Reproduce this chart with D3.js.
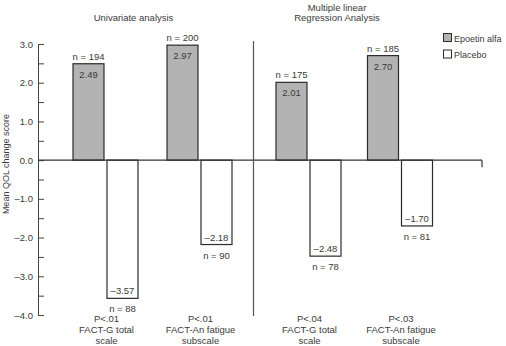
<!DOCTYPE html>
<html>
<head>
<meta charset="utf-8">
<script src="https://cdn.jsdelivr.net/npm/d3@7"></script>
<style>
  body { margin: 0; background: #fff; }
  svg text { font-family: "Liberation Sans", Arial, sans-serif; fill: #3a3a3a; }
</style>
</head>
<body>
<svg id="chart"></svg>
<script>
// chart values
const groups = ["uniG", "uniAn", "mlrG", "mlrAn"];
const panelOf = ["left", "left", "right", "right"];
const pValues = ["P<.01", "P<.01", "P<.04", "P<.03"];
const scaleNames = [["FACT-G total", "scale"], ["FACT-An fatigue", "subscale"],
                    ["FACT-G total", "scale"], ["FACT-An fatigue", "subscale"]];
const series = ["Epoetin alfa", "Placebo"];
const epoetin = [2.49, 2.97, 2.01, 2.70];
const placebo = [-3.57, -2.18, -2.48, -1.70];
const epoetinN = [194, 200, 175, 185];
const placeboN = [88, 90, 78, 81];
const yTicks = [-4, -3, -2, -1, 0, 1, 2, 3];
const yMinor = [-3.5, -2.5, -1.5, -0.5, 0.5, 1.5, 2.5];
const panelTitles = [["Univariate analysis"], ["Multiple linear", "Regression Analysis"]];

const width = 506, height = 346;
const fs = "9.5px";
const svg = d3.select("#chart").attr("width", width).attr("height", height);

const y = d3.scaleLinear().domain([-4, 3]).range([315, 44]);

// one band scale per panel
const leftGroups = groups.filter((g, i) => panelOf[i] === "left");
const rightGroups = groups.filter((g, i) => panelOf[i] === "right");
const xLeft = d3.scaleBand().domain(leftGroups).range([58.5, 246.5]);
const xRight = d3.scaleBand().domain(rightGroups).range([262.75, 445.75]);
const center = (g, i) => {
    const s = panelOf[i] === "left" ? xLeft : xRight;
    return s(g) + s.bandwidth() / 2;
};
const xSub = d3.scaleBand().domain(series).range([-32.5, 32.5]).paddingInner(3 / 34);
const fmt = v => (v < 0 ? "\u2013" : "") + d3.format(".2f")(Math.abs(v));

// y axis
const axisX = 38;
const yAxis = svg.append("g")
    .attr("transform", `translate(${axisX},0)`)
    .call(d3.axisLeft(y).tickValues(yTicks).tickSizeInner(-6).tickSizeOuter(0).tickPadding(5)
        .tickFormat(d => (d < 0 ? "\u2013" : "") + d3.format(".1f")(Math.abs(d))));
yAxis.selectAll("text").style("font-size", fs).attr("fill", "#3a3a3a");
yAxis.selectAll("line, path").attr("stroke", "#444");

const yAxisMinor = svg.append("g")
    .attr("transform", `translate(${axisX},0)`)
    .call(d3.axisLeft(y).tickValues(yMinor).tickSizeInner(-6).tickSizeOuter(0).tickFormat(""));
yAxisMinor.select(".domain").remove();
yAxisMinor.selectAll("line").attr("stroke", "#444");

svg.append("text")
    .attr("transform", `translate(9,${y(-0.1)}) rotate(-90)`)
    .attr("text-anchor", "middle")
    .style("font-size", "9px")
    .text("Mean QOL change score");

// bars
const rows = groups.map((g, i) => ({ g, i, cx: center(g, i) }));

const grp = svg.selectAll(".grp").data(rows).join("g")
    .attr("class", "grp")
    .attr("transform", d => `translate(${d.cx},0)`);

grp.append("rect")
    .attr("x", xSub("Epoetin alfa"))
    .attr("width", xSub.bandwidth())
    .attr("y", d => y(epoetin[d.i]))
    .attr("height", d => y(0) - y(epoetin[d.i]))
    .attr("fill", "#b3b3b3")
    .attr("stroke", "#2b2b2b")
    .attr("stroke-width", 1.2);

grp.append("rect")
    .attr("x", xSub("Placebo"))
    .attr("width", xSub.bandwidth())
    .attr("y", y(0))
    .attr("height", d => y(placebo[d.i]) - y(0))
    .attr("fill", "#fff")
    .attr("stroke", "#2b2b2b")
    .attr("stroke-width", 1.2);

const epoMid = xSub("Epoetin alfa") + xSub.bandwidth() / 2;
const plaMid = xSub("Placebo") + xSub.bandwidth() / 2;

grp.append("text")
    .attr("x", epoMid).attr("y", d => y(epoetin[d.i]) + 14)
    .attr("text-anchor", "middle").style("font-size", fs)
    .text(d => fmt(epoetin[d.i]));
grp.append("text")
    .attr("x", epoMid).attr("y", d => y(epoetin[d.i]) - 4)
    .attr("text-anchor", "middle").style("font-size", fs)
    .text(d => "n = " + epoetinN[d.i]);
grp.append("text")
    .attr("x", plaMid).attr("y", d => y(placebo[d.i]) - 4)
    .attr("text-anchor", "middle").style("font-size", fs)
    .text(d => fmt(placebo[d.i]));
grp.append("text")
    .attr("x", plaMid).attr("y", d => y(placebo[d.i]) + 14)
    .attr("text-anchor", "middle").style("font-size", fs)
    .text(d => "n = " + placeboN[d.i]);

// category labels
const cat = grp.append("text")
    .attr("text-anchor", "middle").style("font-size", fs);
cat.append("tspan").attr("x", 1).attr("y", 321.5).text(d => pValues[d.i]);
cat.append("tspan").attr("x", 1).attr("y", 333).text(d => scaleNames[d.i][0]);
cat.append("tspan").attr("x", 1).attr("y", 343.5).text(d => scaleNames[d.i][1]);

// zero line
svg.append("line")
    .attr("x1", axisX).attr("x2", 482)
    .attr("y1", y(0)).attr("y2", y(0))
    .attr("stroke", "#333").attr("stroke-width", 1.2);
svg.append("line")
    .attr("x1", 482).attr("x2", 482)
    .attr("y1", y(0)).attr("y2", y(0) + 7)
    .attr("stroke", "#333").attr("stroke-width", 1.2);

// panel divider
svg.append("line")
    .attr("x1", 253.5).attr("x2", 253.5)
    .attr("y1", 41).attr("y2", 316)
    .attr("stroke", "#555").attr("stroke-width", 1.2);

// panel titles
const titleX = [133.5, 337];
panelTitles.forEach((lines, k) => {
    const t = svg.append("text").attr("text-anchor", "middle").style("font-size", fs);
    const y0 = lines.length === 1 ? 21 : 10.5;
    lines.forEach((l, j) => t.append("tspan").attr("x", titleX[k]).attr("y", y0 + j * 10.5).text(l));
});

// legend
const legendFill = ["#b3b3b3", "#fff"];
const leg = svg.selectAll(".leg").data(series).join("g")
    .attr("class", "leg")
    .attr("transform", (d, i) => `translate(443.5,${33.5 + i * 16.5})`);
leg.append("rect")
    .attr("width", 8).attr("height", 8)
    .attr("fill", (d, i) => legendFill[i])
    .attr("stroke", "#2b2b2b").attr("stroke-width", 1);
leg.append("text")
    .attr("x", 10.5).attr("y", 8)
    .style("font-size", "9px")
    .text(d => d);
</script>
</body>
</html>
